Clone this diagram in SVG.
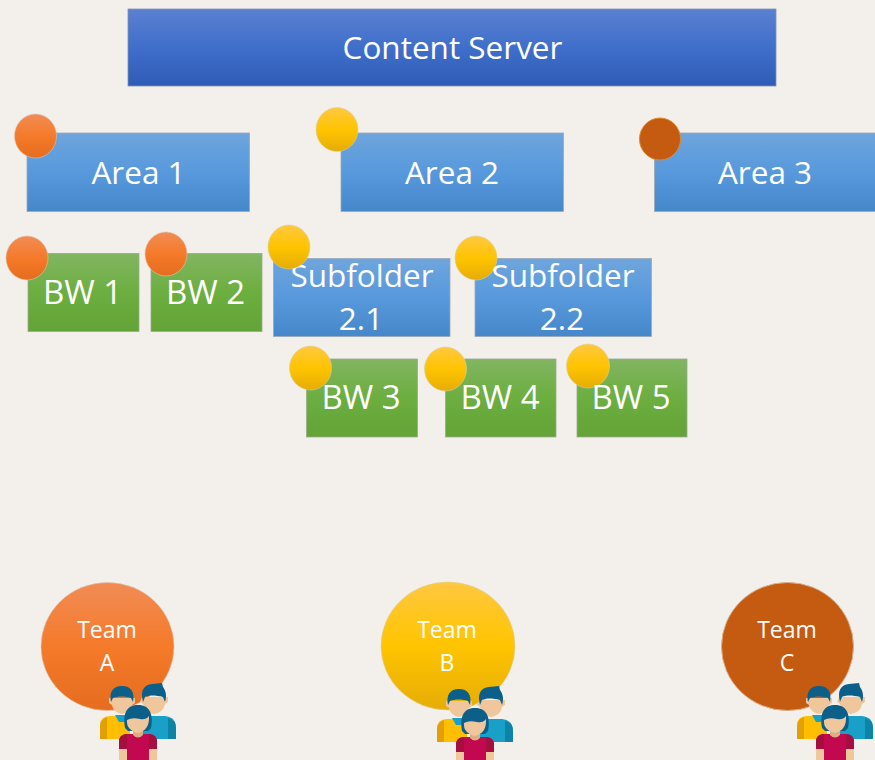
<svg xmlns="http://www.w3.org/2000/svg" width="875" height="760" viewBox="0 0 875 760">
<style>
text{font-family:"Open Sans","Noto Sans","Liberation Sans",sans-serif;fill:#fff;text-anchor:middle}
.t{font-size:31.500px}
.w{font-size:33px}
.s{font-size:23px}
.blue{fill:url(#gb);stroke:#9aa9b8;stroke-width:.8}
.green{fill:url(#gg);stroke:#9aab8e;stroke-width:.8}
.o{fill:url(#go);stroke:#dcc4b2;stroke-width:.6}
.y{fill:url(#gy);stroke:#dccfa0;stroke-width:.6}
.r{fill:#c55a11;stroke:#e08a2a;stroke-width:1}
</style>
<defs>
<linearGradient id="gh" x1="0" y1="0" x2="0" y2="1"><stop offset="0" stop-color="#5b80cf"/><stop offset=".5" stop-color="#3f6fcb"/><stop offset="1" stop-color="#2f5cb6"/></linearGradient>
<linearGradient id="gb" x1="0" y1="0" x2="0" y2="1"><stop offset="0" stop-color="#6fa5dc"/><stop offset=".5" stop-color="#5799dc"/><stop offset="1" stop-color="#4587c9"/></linearGradient>
<linearGradient id="gg" x1="0" y1="0" x2="0" y2="1"><stop offset="0" stop-color="#82b562"/><stop offset=".5" stop-color="#6cae3f"/><stop offset="1" stop-color="#64a337"/></linearGradient>
<linearGradient id="go" x1="0" y1="0" x2="0" y2="1"><stop offset="0" stop-color="#f18c55"/><stop offset=".5" stop-color="#f57a2a"/><stop offset="1" stop-color="#e56d1f"/></linearGradient>
<linearGradient id="gy" x1="0" y1="0" x2="0" y2="1"><stop offset="0" stop-color="#ffc840"/><stop offset=".5" stop-color="#ffc400"/><stop offset="1" stop-color="#e5ad06"/></linearGradient>
<g id="people">
<path d="M10 69V56Q10 46 20 46H40V69Z" fill="#ffbe00"/>
<path d="M10 69V56Q10 50 17 47V69Z" fill="#e39f06"/>
<path d="M53 46H75Q86 47 86 58V69H53Z" fill="#18a0c8"/>
<path d="M78 48Q86 50 86 58V69H78Z" fill="#0f82a8"/>
<path d="M25 45H38L34 52H29Z" fill="#18a0c8"/>
<path d="M22 28H19V33L22 35Q23 42 32 44Q41 42 42 35L45 33V28Z" fill="#f0c69c"/>
<path d="M21 32C19 22 23 16 32 16C41 16 45 22 43 32L41 28C36 26 27 26 23 28Z" fill="#0c5f88"/>
<path d="M52 27H78V32L75 34Q74 42 64 44Q54 42 53 34L50 32Z" fill="#f0c69c"/>
<path d="M53 32C50 20 54 15 62 14L72 13L73 17C76 21 77 26 75 32L73 27C66 25 58 25 55 27Z" fill="#0c5f88"/>
<path d="M29 72Q29 64 37 64H59Q67 64 67 72V90H29Z" fill="#c2084f"/>
<path d="M29 72Q29 65 36 64H37V79H29ZM59 64Q67 65 67 72V79H59Z" fill="#a50f40"/>
<path d="M29 79H37V90H29ZM59 79H67V90H59Z" fill="#f0c69c"/>
<path d="M43 58H53V65Q48 70 43 65Z" fill="#dcae84"/>
<path d="M35 58C32 42 38 35 48 35C58 35 64 42 61 58L58 61H38Z" fill="#0c5f88"/>
<path d="M37 50Q42 47 50 49Q56 50 59 46Q60 60 48 63Q36 60 37 50Z" fill="#f0c69c"/>
</g>
</defs>
<rect width="875" height="760" fill="#f3f0ec"/>
<g id="content-server"><rect x="128" y="9" width="648" height="77" fill="url(#gh)" stroke="#7f93b5" stroke-width=".8"/><text class="t" x="452.500" y="59">Content Server</text></g>
<g id="area-1"><rect class="blue" x="27" y="133" width="222.500" height="78.500"/><ellipse class="o" cx="35.500" cy="136" rx="21" ry="22"/><text class="t" x="138.500" y="184">Area 1</text></g>
<g id="area-2"><rect class="blue" x="341" y="133" width="222.500" height="78.500"/><ellipse class="y" cx="337" cy="129.500" rx="21" ry="22"/><text class="t" x="452" y="184">Area 2</text></g>
<g id="area-3"><rect class="blue" x="654.500" y="133" width="222" height="78.500"/><ellipse class="r" cx="660" cy="139" rx="20.500" ry="21"/><text class="t" x="765" y="184">Area 3</text></g>
<g id="bw-1"><rect class="green" x="28" y="253.500" width="111" height="78"/><ellipse class="o" cx="27" cy="258" rx="21" ry="22"/><text class="w" x="82.500" y="304">BW 1</text></g>
<g id="bw-2"><rect class="green" x="151" y="253.500" width="111" height="78"/><ellipse class="o" cx="166" cy="254" rx="21" ry="22"/><text class="w" x="205.500" y="304">BW 2</text></g>
<g id="subfolder-2-1"><rect class="blue" x="273.500" y="258.500" width="176.500" height="78"/><text class="t" x="362" y="287">Subfolder</text><text class="t" x="361" y="330">2.1</text><ellipse class="y" cx="289" cy="247" rx="21" ry="22"/></g>
<g id="subfolder-2-2"><rect class="blue" x="475" y="258.500" width="176.500" height="78"/><ellipse class="y" cx="476" cy="258" rx="21" ry="22"/><text class="t" x="563" y="287">Subfolder</text><text class="t" x="562" y="330">2.2</text></g>
<g id="bw-3"><rect class="green" x="306.500" y="359" width="111" height="78"/><ellipse class="y" cx="310.500" cy="368" rx="21" ry="22"/><text class="w" x="361" y="409">BW 3</text></g>
<g id="bw-4"><rect class="green" x="445.500" y="359" width="110.500" height="78"/><ellipse class="y" cx="445.500" cy="369" rx="21" ry="22"/><text class="w" x="500" y="409">BW 4</text></g>
<g id="bw-5"><rect class="green" x="577" y="359" width="110" height="78"/><ellipse class="y" cx="588" cy="366" rx="21.500" ry="22"/><text class="w" x="631" y="409">BW 5</text></g>
<g id="team-a"><ellipse class="o" cx="107.500" cy="646.500" rx="66.500" ry="64"/><text class="s" x="107" y="638">Team</text><text class="s" x="107" y="671">A</text><use href="#people" transform="translate(90 670)"/></g>
<g id="team-b"><ellipse class="y" cx="448" cy="646" rx="67" ry="64"/><text class="s" x="447" y="638">Team</text><text class="s" x="447" y="671">B</text><use href="#people" transform="translate(427 673)"/></g>
<g id="team-c"><ellipse class="r" cx="787.500" cy="646.500" rx="66" ry="64" style="stroke:#d8b090"/><text class="s" x="787" y="638">Team</text><text class="s" x="787" y="671">C</text><use href="#people" transform="translate(787 670)"/></g>
<g id="connectors"/>
</svg>
